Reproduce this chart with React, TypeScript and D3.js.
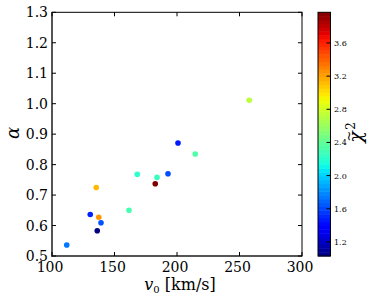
import React, { useEffect, useRef } from 'react';
import * as d3 from 'd3';

// scatter data
const v0 = [111.8, 130.6, 135.4, 137.4, 139.2, 136.2, 161.6, 168.2, 184.0, 182.6, 192.8, 200.8, 214.6, 257.8];
const alpha = [0.536, 0.636, 0.725, 0.627, 0.609, 0.583, 0.650, 0.768, 0.758, 0.737, 0.770, 0.871, 0.835, 1.011];
const chi2 = [1.74, 1.49, 3.13, 3.24, 1.63, 1.03, 2.31, 2.21, 2.26, 3.97, 1.62, 1.47, 2.34, 2.73];

const xTicks = [100, 150, 200, 250, 300];
const yTicks = [0.5, 0.6, 0.7, 0.8, 0.9, 1.0, 1.1, 1.2, 1.3];
const cbTicks = [1.2, 1.6, 2.0, 2.4, 2.8, 3.2, 3.6];

const W = 379;
const H = 304;
const FONT = 'DejaVu Serif, Liberation Serif, serif';

// matplotlib "jet" colormap
function jet(t: number) {
  const clamp = (v: number) => Math.max(0, Math.min(1, v));
  const r = clamp(t < 0.35 ? 0 : t < 0.66 ? (t - 0.35) / 0.31 : t < 0.89 ? 1 : 1 - 0.5 * (t - 0.89) / 0.11);
  const g = clamp(t < 0.125 ? 0 : t < 0.375 ? (t - 0.125) / 0.25 : t < 0.64 ? 1 : t < 0.91 ? 1 - (t - 0.64) / 0.27 : 0);
  const b = clamp(t < 0.11 ? 0.5 + 0.5 * t / 0.11 : t < 0.34 ? 1 : t < 0.65 ? 1 - (t - 0.34) / 0.31 : 0);
  return d3.rgb(r * 255, g * 255, b * 255).formatHex();
}

const App: React.FC = () => {
  const svgRef = useRef<SVGSVGElement>(null);

  useEffect(() => {
    if (!svgRef.current) return;
    const svg = d3.select(svgRef.current);
    svg.selectAll('*').remove();

    const left = 52, right = 302, top = 12.3, bottom = 256;
    const x = d3.scaleLinear().domain([100, 300]).range([left, right]);
    const y = d3.scaleLinear().domain([0.5, 1.3]).range([bottom, top]);
    const cmin = d3.min(chi2) as number;
    const cmax = d3.max(chi2) as number;
    const color = (v: number) => jet((v - cmin) / (cmax - cmin));

    svg.append('rect').attr('width', W).attr('height', H).attr('fill', '#fff');

    // frame
    const g = svg.append('g');
    g.append('rect')
      .attr('x', left).attr('y', top)
      .attr('width', right - left).attr('height', bottom - top)
      .attr('fill', 'none').attr('stroke', '#000').attr('stroke-width', 1);
    g.append('line').attr('x1', left).attr('x2', left).attr('y1', top).attr('y2', bottom + 1)
      .attr('stroke', '#555').attr('stroke-width', 2);
    g.append('line').attr('x1', left - 1).attr('x2', right).attr('y1', bottom).attr('y2', bottom)
      .attr('stroke', '#555').attr('stroke-width', 2);

    // ticks (inward, all four sides)
    xTicks.forEach(t => {
      g.append('line').attr('x1', x(t)).attr('x2', x(t)).attr('y1', bottom).attr('y2', bottom - 4).attr('stroke', '#000');
      g.append('line').attr('x1', x(t)).attr('x2', x(t)).attr('y1', top).attr('y2', top + 4).attr('stroke', '#000');
      g.append('text').attr('x', x(t) - 2).attr('y', 272)
        .attr('text-anchor', 'middle').attr('font-family', FONT).attr('font-size', 14)
        .text(String(t));
    });
    yTicks.forEach(t => {
      g.append('line').attr('x1', left).attr('x2', left + 4).attr('y1', y(t)).attr('y2', y(t)).attr('stroke', '#000');
      g.append('line').attr('x1', right).attr('x2', right - 4).attr('y1', y(t)).attr('y2', y(t)).attr('stroke', '#000');
      g.append('text').attr('x', 48).attr('y', y(t) + 5)
        .attr('text-anchor', 'end').attr('font-family', FONT).attr('font-size', 14)
        .text(t.toFixed(1));
    });

    // axis labels
    const xl = g.append('text').attr('x', 180).attr('y', 290)
      .attr('text-anchor', 'middle').attr('font-family', FONT).attr('font-size', 16);
    xl.append('tspan').attr('font-style', 'italic').text('v');
    xl.append('tspan').attr('font-size', 10).attr('dy', 3).text('0');
    xl.append('tspan').attr('dy', -3).text(' [km/s]');

    g.append('text').attr('transform', 'translate(19,133) rotate(-90)')
      .attr('text-anchor', 'middle').attr('font-family', FONT).attr('font-size', 18)
      .attr('font-style', 'italic').text('α');

    // points
    g.selectAll('circle.pt')
      .data(v0.map((v, i) => ({ v, a: alpha[i], c: chi2[i] })))
      .join('circle')
      .attr('class', 'pt')
      .attr('cx', d => x(d.v))
      .attr('cy', d => y(d.a))
      .attr('r', 2.8)
      .attr('fill', d => color(d.c));

    // colorbar
    const cbx = 318, cbw = 12.5;
    const cy = d3.scaleLinear().domain([cmin, cmax]).range([bottom, top]);
    const n = 64;
    const steps = d3.range(n).map(i => cmin + (cmax - cmin) * i / n);
    const cb = svg.append('g');
    cb.selectAll('rect.band')
      .data(steps)
      .join('rect')
      .attr('class', 'band')
      .attr('x', cbx)
      .attr('width', cbw)
      .attr('y', d => cy(d + (cmax - cmin) / n))
      .attr('height', (bottom - top) / n + 0.5)
      .attr('fill', d => color(d + (cmax - cmin) / (2 * n)));
    cb.append('rect').attr('x', cbx).attr('y', top).attr('width', cbw).attr('height', bottom - top)
      .attr('fill', 'none').attr('stroke', '#000').attr('stroke-width', 1);
    cbTicks.forEach(t => {
      cb.append('line').attr('x1', cbx + cbw).attr('x2', cbx + cbw - 4).attr('y1', cy(t)).attr('y2', cy(t))
        .attr('stroke', '#000');
      cb.append('text').attr('x', 334).attr('y', cy(t) + 3)
        .attr('font-family', FONT).attr('font-size', 8).text(t.toFixed(1));
    });
    // rotated chi-tilde-squared label
    const lab = cb.append('g').attr('transform', 'translate(362,134) rotate(-90)');
    lab.append('text').attr('x', -3).attr('y', 0).attr('text-anchor', 'middle')
      .attr('font-family', FONT).attr('font-size', 19).attr('font-style', 'italic').text('χ');
    lab.append('text').attr('x', -2).attr('y', -9).attr('text-anchor', 'middle')
      .attr('font-family', FONT).attr('font-size', 13).text('~');
    lab.append('text').attr('x', 8).attr('y', -7).attr('text-anchor', 'middle')
      .attr('font-family', FONT).attr('font-size', 12).text('2');
  }, []);

  return (
    <svg
      ref={svgRef}
      width={W}
      height={H}
      style={{ position: 'absolute', left: 0, top: 0, display: 'block' }}
    />
  );
};

export default App;
